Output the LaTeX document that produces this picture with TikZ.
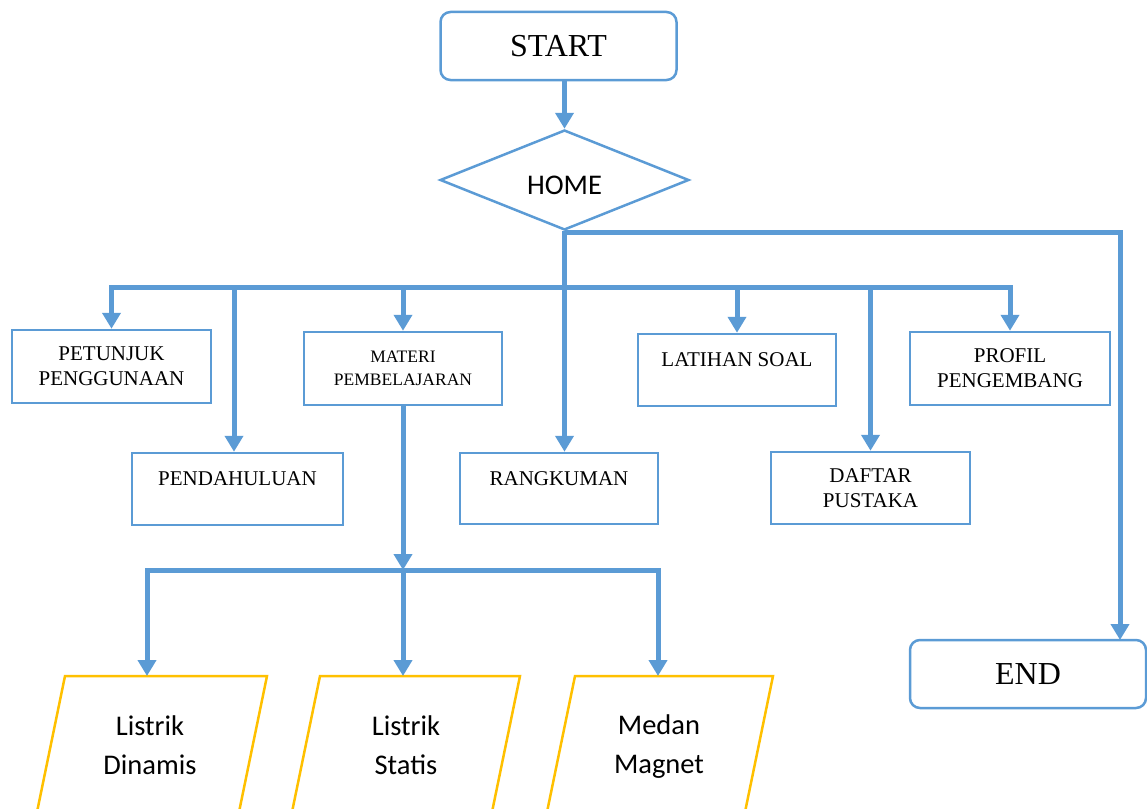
\documentclass[tikz,border=0pt]{standalone}
\usepackage{fontspec}
\setmainfont{Liberation Serif}
\newfontfamily\calib{Carlito}
\usetikzlibrary{arrows.meta,shapes.geometric}
\definecolor{blu}{HTML}{5B9BD5}
\definecolor{yel}{HTML}{FFC000}
\begin{document}
\begin{tikzpicture}[x=1pt,y=-1pt,
  box/.style={draw=blu,line width=2.5pt,minimum width=199pt,minimum height=73pt,inner sep=0pt,align=center,font=\fontsize{21}{25}\selectfont},
  smallbox/.style={box,font=\fontsize{17.5}{23}\selectfont},
  term/.style={draw=blu,line width=2.5pt,rounded corners=10pt,minimum width=236pt,minimum height=68pt,inner sep=0pt,font=\fontsize{32}{36}\selectfont},
  dec/.style={draw=blu,line width=2.5pt,shape=diamond,aspect=2.49,minimum width=249pt,minimum height=100pt,inner sep=0pt,font=\calib\fontsize{28.5}{30}\selectfont},
  conn/.style={draw=blu,line width=5pt},
  arr/.style={-{Triangle[width=18pt,length=16pt]}},
  para/.style={draw=yel,line width=2.5pt},
  ptext/.style={align=center,inner sep=0pt,font=\calib\fontsize{28.5}{39}\selectfont}
]
\useasboundingbox (0,0) rectangle (1147,808);

% terminals and decision
\node[term] (start) at (558.5,46) {START};
\node[dec] (home) at (564.5,180) {\raisebox{-14pt}[0pt][0pt]{HOME}};
\node[term] (end) at (1028,674) {END};

% boxes
\node[box] (petunjuk) at (111.5,366.5) {PETUNJUK\\PENGGUNAAN};
\node[box,minimum width=211pt,minimum height=72pt] (pendahuluan) at (237.5,489) {PENDAHULUAN\\[-12pt]\strut};
\node[smallbox,minimum width=198pt] (materi) at (403,368.5) {MATERI\\PEMBELAJARAN};
\node[box,minimum width=198pt,minimum height=71pt] (rangkuman) at (559,488.5) {RANGKUMAN\\[-12pt]\strut};
\node[box,minimum width=198pt,minimum height=72pt] (latihan) at (737,370) {LATIHAN SOAL\\[-12pt]\strut};
\node[box,minimum width=199pt,minimum height=72pt] (daftar) at (870.5,488) {DAFTAR\\PUSTAKA};
\node[box,minimum width=200pt] (profil) at (1010,368.5) {PROFIL\\PENGEMBANG};

% parallelograms
\draw[para] (65,676) -- (267,676) -- (239,812) -- (37,812) -- cycle;
\draw[para] (320,676) -- (520,676) -- (492,812) -- (292,812) -- cycle;
\draw[para] (575,676) -- (773,676) -- (745,812) -- (547,812) -- cycle;
\node[ptext] (dinamis) at (150,745) {Listrik\\Dinamis};
\node[ptext] (statis) at (406,745) {Listrik\\Statis};
\node[ptext] (magnet) at (659,747) {Medan\\Magnet};

% connector coordinates
\coordinate (bus) at (564,287);
\coordinate (endturn) at (1120,232);
\coordinate (endin) at (1120,640);
\coordinate (sub) at (403,570);
\coordinate (in1) at (147,676);
\coordinate (in2) at (403,676);
\coordinate (in3) at (658,676);
\coordinate (pdx) at (234,287);

% connectors
\draw[conn,arr] (start.south -| home.north) -- (home.north);
\draw[conn,arr] (home.south) -- (home.south |- rangkuman.north);
\draw[conn,arr] (home.south |- endturn) -- (endturn) -- (endin);
\draw[conn,line cap=rect] (bus -| petunjuk.north) -- (bus -| profil.north);
\draw[conn,arr] (bus -| petunjuk.north) -- (petunjuk.north);
\draw[conn,arr] (pdx) -- (pdx |- pendahuluan.north);
\draw[conn,arr] (bus -| materi.north) -- (materi.north);
\draw[conn,arr] (bus -| latihan.north) -- (latihan.north);
\draw[conn,arr] (bus -| daftar.north) -- (daftar.north);
\draw[conn,arr] (bus -| profil.north) -- (profil.north);
\draw[conn,arr] (materi.south) -- (sub);
\draw[conn,line cap=rect] (sub -| in1) -- (sub -| in3);
\draw[conn,arr] (sub -| in1) -- (in1);
\draw[conn,arr] (sub -| in2) -- (in2);
\draw[conn,arr] (sub -| in3) -- (in3);
\end{tikzpicture}
\end{document}
